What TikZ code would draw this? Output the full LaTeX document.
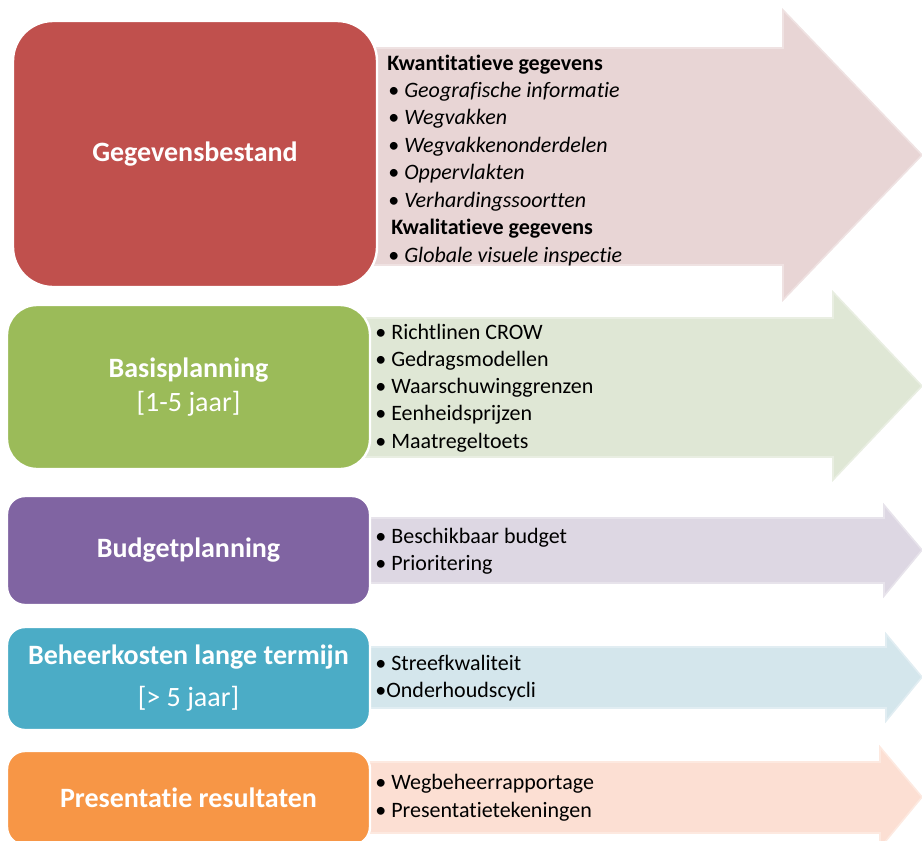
\documentclass[tikz,border=0pt]{standalone}
\usepackage{fontspec}
\setmainfont{Carlito}[Ligatures=NoCommon]
\usetikzlibrary{positioning}

\definecolor{rood}{HTML}{C0504D}
\definecolor{groen}{HTML}{9BBB59}
\definecolor{paars}{HTML}{8064A2}
\definecolor{blauw}{HTML}{4BACC6}
\definecolor{oranje}{HTML}{F79646}
\definecolor{roodlicht}{HTML}{E8D5D5}
\definecolor{groenlicht}{HTML}{DFE7D5}
\definecolor{paarslicht}{HTML}{DDD7E3}
\definecolor{blauwlicht}{HTML}{D4E6EC}
\definecolor{oranjelicht}{HTML}{FCDFD3}

\begin{document}
\begin{tikzpicture}[x=0.5pt,y=-0.5pt,
		stap/.style={draw=white,line width=1.2pt,text=white,align=center,
			font=\fontsize{14}{17}\selectfont\bfseries,inner sep=0pt},
		pijl/.style={line width=0.8pt,line join=miter},
		regel/.style={anchor=base west,inner sep=0pt,font=\fontsize{11}{13}\selectfont}]
		\tikzstyle{every node}+=[inner sep=0pt]
		\useasboundingbox (0,0) rectangle (922,841);
		\clip (0,0) rectangle (922,841);
		% pijlen
		\filldraw [pijl,fill=roodlicht,draw=roodlicht!70!white] (360,48) -- (783,48) -- (783,10) -- (922,155) -- (783,300) -- (783,265) -- (360,265) -- cycle;
		\filldraw [pijl,fill=groenlicht,draw=groenlicht!70!white] (360,318) -- (833,318) -- (833,292) -- (922,386) -- (833,480) -- (833,457) -- (360,457) -- cycle;
		\filldraw [pijl,fill=paarslicht,draw=paarslicht!70!white] (360,518) -- (884,518) -- (884,505) -- (922,550) -- (884,596) -- (884,583) -- (360,583) -- cycle;
		\filldraw [pijl,fill=blauwlicht,draw=blauwlicht!70!white] (360,647) -- (886,647) -- (886,634) -- (922,677) -- (886,721) -- (886,708) -- (360,708) -- cycle;
		\filldraw [pijl,fill=oranjelicht,draw=oranjelicht!70!white] (360,762) -- (880,762) -- (880,747) -- (922,797) -- (880,848) -- (880,833) -- (360,833) -- cycle;
		% blokken
		\node [stap,fill=rood,rounded corners=20pt,minimum width=182pt,minimum height=133pt] (gegevens) at (195,154) {Gegevensbestand};
		\node [stap,fill=groen,rounded corners=15pt,minimum width=181.5pt,minimum height=82pt] (basis) at (188.5,387) {Basisplanning\\{\mdseries [1-5 jaar]}};
		\node [stap,fill=paars,rounded corners=9pt,minimum width=181.5pt,minimum height=54.5pt] (budget) at (188.5,550.5) {Budgetplanning};
		\node [stap,fill=blauw,rounded corners=9pt,minimum width=181.5pt,minimum height=51.5pt] (beheer) at (188.5,678.5) {Beheerkosten lange termijn\\[4pt]{\mdseries [> 5 jaar]}};
		\node [stap,fill=oranje,rounded corners=9pt,minimum width=181.5pt,minimum height=47pt] (presentatie) at (188.5,798) {Presentatie resultaten};
		% teksten
		\node [regel] (gb-0) at (387,70) {\bfseries Kwantitatieve gegevens};
		\foreach \t [count=\i] in {Geografische informatie,Wegvakken,Wegvakkenonderdelen,Oppervlakten,Verhardingssoortten}
			\node [regel] (gb-\i) at (388,70+27.4*\i) {\textbullet\ \textit{\t}};
		\node [regel] (gb-6) at (391,234) {\bfseries Kwalitatieve gegevens};
		\node [regel] (gb-7) at (388,262) {\textbullet\ \textit{Globale visuele inspectie}};
		\foreach \t [count=\i from 0] in {Richtlinen CROW,Gedragsmodellen,Waarschuwinggrenzen,Eenheidsprijzen,Maatregeltoets}
			\node [regel] (bp-\i) at (375,339+27.3*\i) {\textbullet\ \t};
		\node [regel] (bu-0) at (375,543) {\textbullet\ Beschikbaar budget};
		\node [regel] (bu-1) at (375,570) {\textbullet\ Prioritering};
		\node [regel] (bk-0) at (375,670) {\textbullet\ Streefkwaliteit};
		\node [regel] (bk-1) at (375,697) {\textbullet Onderhoudscycli};
		\node [regel] (pr-0) at (375,789) {\textbullet\ Wegbeheerrapportage};
		\node [regel] (pr-1) at (375,817) {\textbullet\ Presentatietekeningen};
\end{tikzpicture}
\end{document}
